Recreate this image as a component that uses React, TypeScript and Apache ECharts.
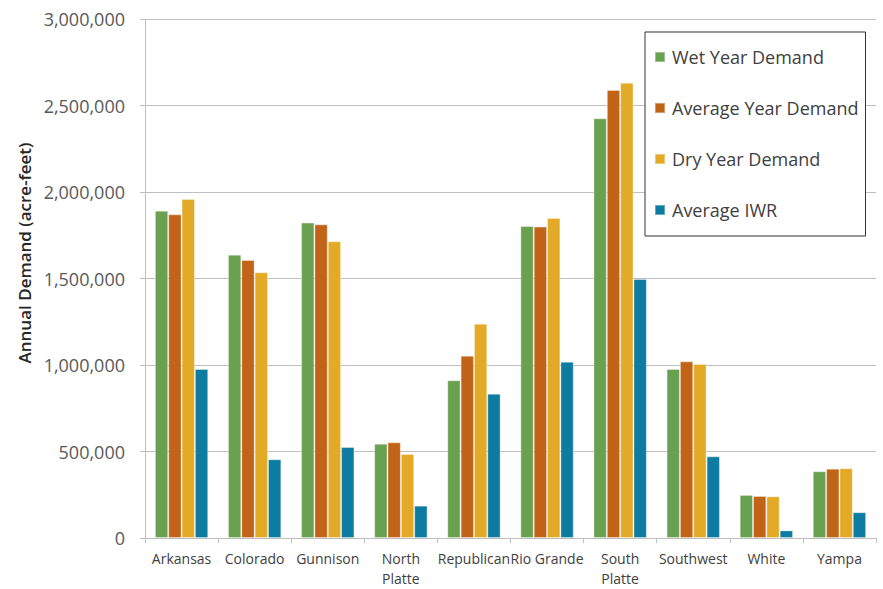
import React, { useEffect, useRef } from "react";
import * as echarts from "echarts";

// Basins along the x axis
const basins = [
  "Arkansas",
  "Colorado",
  "Gunnison",
  "North\nPlatte",
  "Republican",
  "Rio Grande",
  "South\nPlatte",
  "Southwest",
  "White",
  "Yampa",
];

// Annual demand by basin, acre-feet
const wetYearDemand = [1892000, 1638000, 1823000, 545000, 912000, 1803000, 2426000, 977000, 249000, 386000];
const averageYearDemand = [1871000, 1607000, 1813000, 553000, 1054000, 1800000, 2590000, 1021000, 243000, 401000];
const dryYearDemand = [1960000, 1536000, 1715000, 486000, 1239000, 1850000, 2632000, 1006000, 241000, 403000];
const averageIWR = [977000, 455000, 526000, 187000, 834000, 1019000, 1497000, 472000, 44000, 149000];

const seriesNames = ["Wet Year Demand", "Average Year Demand", "Dry Year Demand", "Average IWR"];
const seriesColors = ["#6aa150", "#c26418", "#e3aa27", "#0e7ca0"];

const FONT = "'Open Sans', 'Noto Sans', sans-serif";

export default function App() {
  const ref = useRef<HTMLDivElement>(null);

  useEffect(() => {
    if (!ref.current) return;
    const chart = echarts.init(ref.current, undefined, { renderer: "svg" });
    const values = [wetYearDemand, averageYearDemand, dryYearDemand, averageIWR];

    chart.setOption({
      animation: false,
      backgroundColor: "#ffffff",
      textStyle: { fontFamily: FONT },
      grid: { left: 145, right: 7, top: 19, bottom: 51, containLabel: false },
      legend: {
        orient: "vertical",
        left: 645,
        top: 32,
        data: seriesNames,
        icon: "rect",
        itemWidth: 10,
        itemHeight: 10,
        itemGap: 31,
        padding: [15, 7, 16, 9],
        borderColor: "#333333",
        borderWidth: 1,
        backgroundColor: "#ffffff",
        textStyle: { fontSize: 18, color: "#404040", fontFamily: FONT, lineHeight: 20, padding: [0, 0, 0, 2] },
      },
      xAxis: {
        type: "category",
        data: basins,
        axisLine: { show: true, lineStyle: { color: "#bfbfbf", width: 1 } },
        axisTick: { show: true, length: 5, alignWithLabel: false, lineStyle: { color: "#bfbfbf" } },
        axisLabel: {
          interval: 0,
          margin: 10,
          fontSize: 14,
          lineHeight: 20,
          color: "#404040",
          fontFamily: FONT,
        },
      },
      yAxis: {
        type: "value",
        min: 0,
        max: 3000000,
        interval: 500000,
        axisLine: { show: true, lineStyle: { color: "#bfbfbf", width: 1 } },
        axisTick: { show: true, length: 5, lineStyle: { color: "#bfbfbf" } },
        splitLine: { show: true, lineStyle: { color: "#bfbfbf", width: 1 } },
        axisLabel: {
          margin: 20,
          fontSize: 18,
          color: "#595959",
          fontFamily: FONT,
          formatter: (v: number) => v.toLocaleString("en-US"),
        },
      },
      graphic: [
        {
          type: "text",
          x: 24,
          y: 253,
          rotation: Math.PI / 2,
          style: {
            text: "Annual Demand (acre-feet)",
            fontSize: 17,
            fontWeight: 600,
            fontFamily: FONT,
            fill: "#262626",
            align: "center",
            verticalAlign: "middle",
          },
        },
      ],
      series: seriesNames.map((name, i) => ({
        name,
        type: "bar",
        data: values[i],
        barGap: "0%",
        barCategoryGap: "27%",
        itemStyle: {
          color: seriesColors[i],
          borderColor: "rgba(255,255,255,0.35)",
          borderWidth: 1,
        },
      })),
    });

    return () => chart.dispose();
  }, []);

  return <div ref={ref} style={{ width: 883, height: 589, position: "absolute", left: 0, top: 0 }} />;
}
